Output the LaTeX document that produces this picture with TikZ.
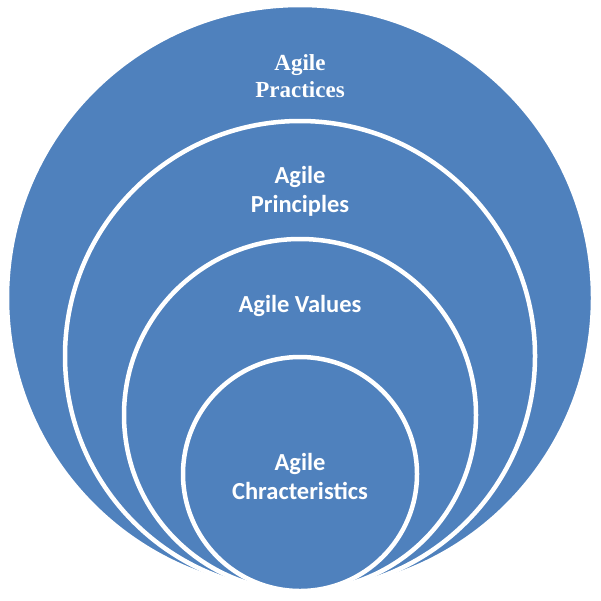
\documentclass[tikz,border=0pt]{standalone}
\usepackage{fontspec}
\newfontfamily\labelfont{Carlito}
\newfontfamily\serifl{Liberation Serif}
\definecolor{ringblue}{RGB}{79,129,189}
\begin{document}
\begin{tikzpicture}[x=1pt,y=1pt,yscale=-1,xscale=1]

% --- STYLES ---
\tikzset{
  ring/.style={fill=ringblue, draw=white, line width=4.5pt},
  lbl/.style={text=white, align=center, font=\labelfont\bfseries\fontsize{24.5}{29}\selectfont},
  lblserif/.style={text=white, align=center, font=\serifl\bfseries\fontsize{23}{27}\selectfont}
}

\useasboundingbox (0,0) rectangle (601,600);

% --- CIRCLES (outer to inner, all touching at the bottom) ---
\draw[ring] (300,298) circle (293pt);
\draw[ring] (300,356) circle (235pt);
\draw[ring] (300,415) circle (176pt);
\draw[ring] (300,474) circle (117pt);

% --- LABELS ---
\node[lblserif] (practices)  at (300,76)  {Agile\\Practices};
\node[lbl]      (principles) at (300,191) {Agile\\Principles};
\node[lbl]      (values)     at (300,306) {Agile Values};
\node[lbl]      (chars)      at (300,476) {Agile\\Chracteristics};

\end{tikzpicture}
\end{document}
